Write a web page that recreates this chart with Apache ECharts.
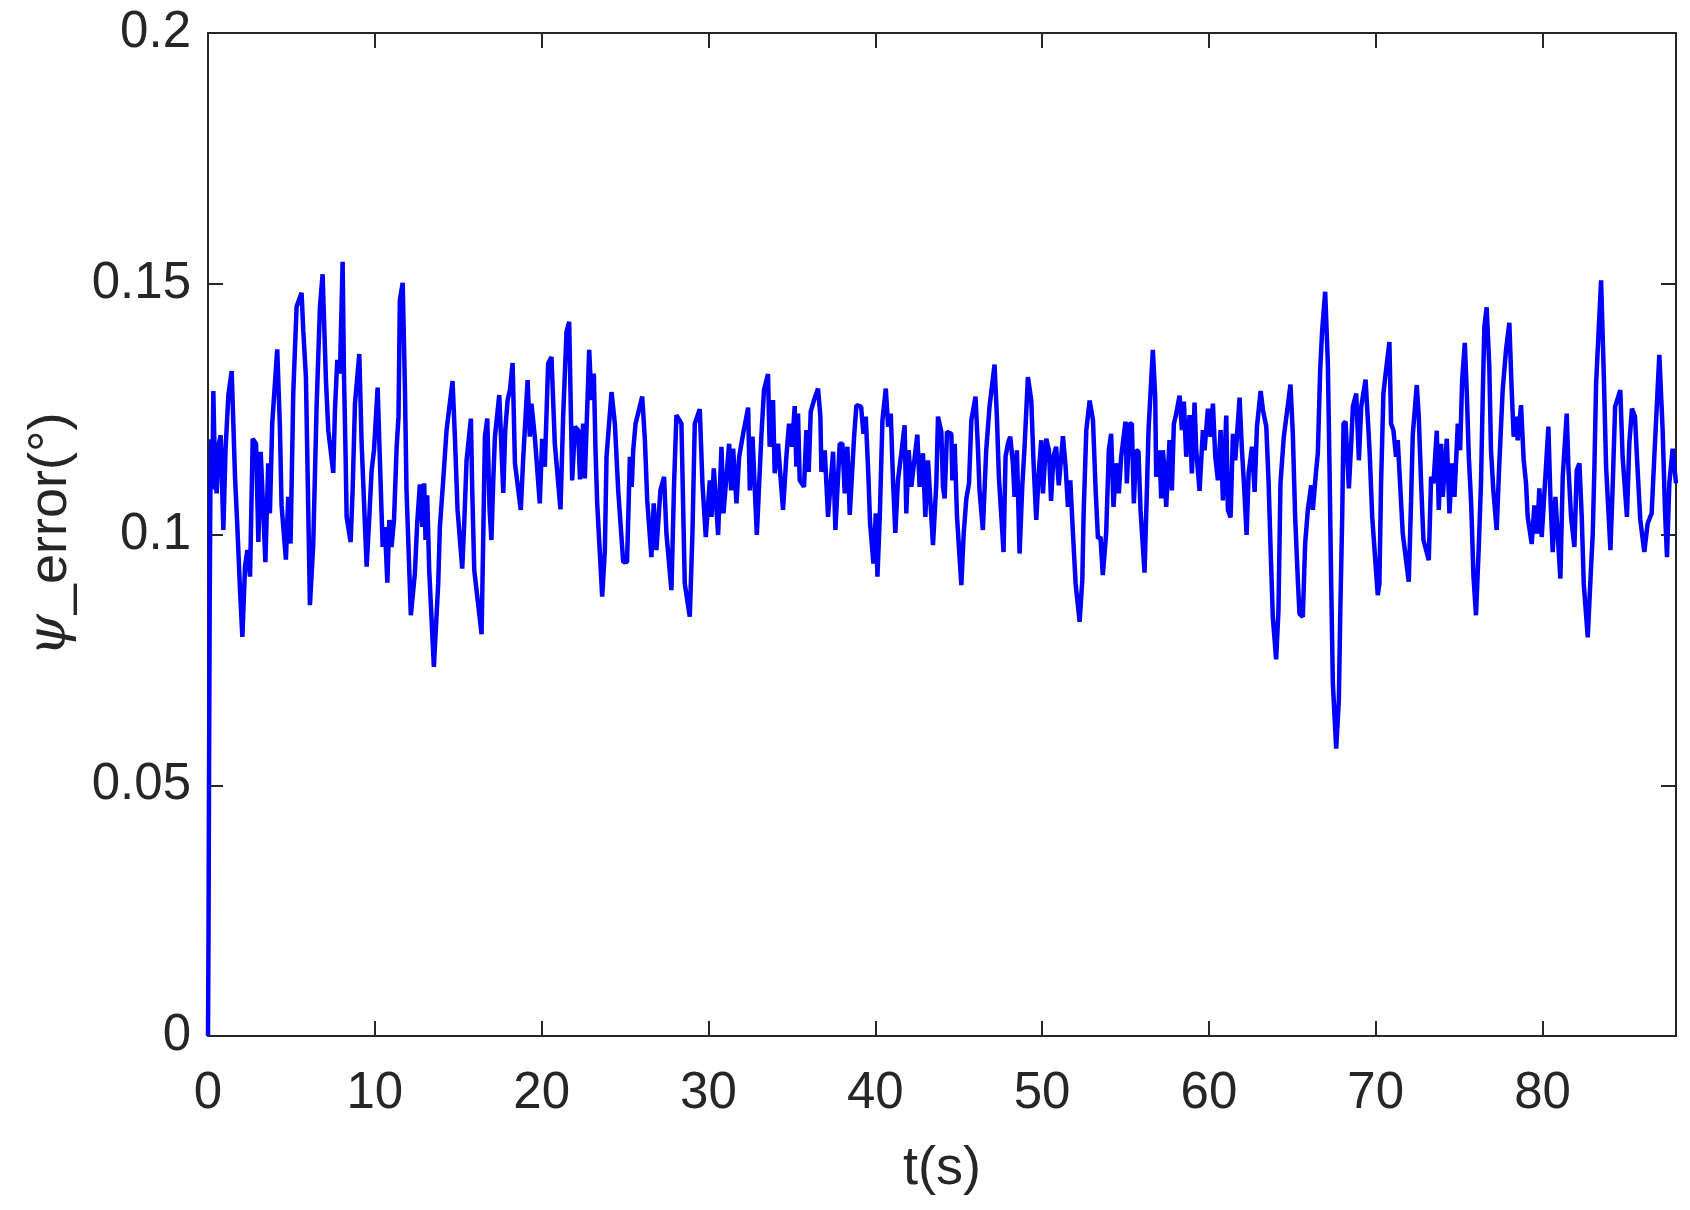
<!DOCTYPE html>
<html>
<head>
<meta charset="utf-8">
<script src="https://cdn.jsdelivr.net/npm/echarts@6/dist/echarts.min.js"></script>
<style>
html,body{margin:0;padding:0;background:#fff;}
#chart{width:1690px;height:1210px;}
</style>
</head>
<body>
<div id="chart"></div>
<script>
// time (s)
const time = [
0,0.03,0.06,0.1,0.14,0.2,0.26,0.32,0.42,0.52,0.64,0.76,0.92,1.05,1.22,1.42,1.62,1.76,1.92,2.06,2.22,2.36,2.52,2.68,2.88,3.02,3.16,3.44,3.61,3.71,3.85,4.15,4.31,4.41,4.67,4.81,4.95,5.11,5.31,5.61,5.71,5.87,6.11,6.31,6.51,6.71,6.87,7.07,7.21,7.51,7.61,7.75,7.91,8.07,8.15,8.25,8.31,8.55,8.67,8.81,9.07,9.21,9.51,9.67,9.81,9.95,10.17,10.31,10.47,10.61,10.75,10.87,
11.0,11.15,11.31,11.42,11.5,11.67,11.8,11.9,12.16,12.4,12.54,12.7,12.85,12.96,13.04,13.14,13.26,13.54,13.8,13.9,14.1,14.3,14.66,14.8,14.96,15.24,15.36,15.5,15.76,15.84,15.96,16.4,16.52,16.6,16.74,16.88,16.99,17.1,17.2,17.46,17.7,17.82,17.96,18.1,18.26,18.4,18.75,18.9,19.16,19.29,19.39,19.59,19.89,20.03,20.19,20.39,20.59,20.79,21.13,21.29,21.49,21.65,21.83,
22.0,22.1,22.19,22.3,22.49,22.59,22.85,22.99,23.13,23.23,23.33,23.63,23.79,23.89,24.19,24.39,24.59,24.89,25.12,25.29,25.4,25.49,25.63,26.03,26.19,26.33,26.58,26.72,26.88,27.12,27.34,27.48,27.78,27.94,28.08,28.18,28.38,28.58,28.88,29.04,29.18,29.48,29.64,29.84,30.08,30.18,30.32,30.58,30.78,30.9,31.24,31.36,31.48,31.68,31.84,32.08,32.38,32.48,32.64,32.9,
33.17,33.33,33.57,33.67,33.87,33.97,34.17,34.47,34.67,34.83,35.01,35.17,35.27,35.37,35.47,35.73,35.87,36.01,36.13,36.33,36.57,36.71,36.77,36.97,37.17,37.47,37.61,37.87,38.03,38.17,38.33,38.47,38.73,38.87,39.15,39.29,39.43,39.59,39.69,39.89,40.03,40.13,40.27,40.43,40.63,40.77,40.93,41.07,41.2,41.36,41.56,41.76,41.86,42.0,42.16,42.52,42.66,42.86,43.0,43.16,43.46,43.66,43.76,43.96,44.06,
44.16,44.3,44.56,44.62,44.76,44.9,45.16,45.3,45.46,45.62,45.76,46.01,46.15,46.25,46.45,46.65,46.85,47.15,47.29,47.41,47.69,47.81,47.95,48.09,48.25,48.35,48.49,48.65,48.81,48.95,49.15,49.35,49.49,49.65,49.81,49.95,50.05,50.25,50.41,50.54,50.68,50.84,51.0,51.25,51.41,51.55,51.69,51.85,52.01,52.25,52.41,52.49,52.65,52.85,53.05,53.21,53.35,53.5,53.64,53.84,54.0,54.14,54.28,54.44,54.6,54.74,55.0,
55.08,55.24,55.38,55.5,55.64,55.78,55.9,56.14,56.3,56.38,56.64,56.78,56.84,57.04,57.14,57.24,57.34,57.44,57.64,57.78,57.9,58.04,58.24,58.38,58.5,58.64,58.84,58.98,59.14,59.24,59.44,59.64,59.74,59.94,60.1,60.24,60.38,60.54,60.7,60.84,61.04,61.14,61.3,61.44,61.58,61.84,61.98,62.1,62.26,62.38,62.58,62.74,62.88,63.1,63.24,63.44,63.58,63.7,63.83,64.03,64.17,64.29,64.49,64.89,65.03,65.17,65.33,65.43,65.63,65.77,65.93,66.13,
66.23,66.43,66.53,66.67,66.79,66.97,67.13,67.23,67.33,67.43,67.63,67.79,67.87,67.99,68.07,68.19,68.39,68.53,68.63,68.83,68.99,69.13,69.39,69.53,69.63,69.79,69.93,70.12,70.22,70.32,70.46,70.62,70.82,70.92,71.06,71.22,71.32,71.46,71.62,71.98,72.12,72.22,72.46,72.58,72.72,72.86,73.18,73.32,73.46,73.66,73.78,73.92,74.02,74.26,74.42,74.58,74.72,74.92,75.06,75.18,75.34,75.46,75.58,75.72,75.86,76.01,76.17,76.31,76.41,76.51,76.65,76.81,76.91,77.05,77.25,
77.4,77.61,77.81,78.01,78.15,78.27,78.41,78.51,78.71,78.87,79.01,79.11,79.35,79.51,79.67,79.81,79.95,80.11,80.35,80.47,80.61,80.77,81.07,81.21,81.45,81.55,81.71,81.91,82.05,82.21,82.35,82.47,82.71,82.87,83.01,83.11,83.21,83.51,83.67,83.81,84.07,84.21,84.35,84.66,84.8,85.06,85.2,85.36,85.54,85.7,85.86,86.1,86.3,86.54,86.7,87.0,87.2,87.34,87.46,87.6,87.8,87.9,88.0
];
// psi_error (deg)
const psiError = [
0,0.02,0.05,0.085,0.108,0.119,0.109,0.1286,0.112,0.1082,0.118,0.1198,0.1009,0.1168,0.1278,0.1326,0.1115,0.1015,0.0889,0.0796,0.0936,0.0969,0.0916,0.1191,0.1181,0.0985,0.1165,0.0945,0.1142,0.1042,0.1221,0.1369,0.1215,0.1058,0.095,0.1075,0.0982,0.1281,0.1454,0.1482,0.1407,0.1314,0.0859,0.0982,0.1255,0.1454,0.1519,0.1308,0.1208,0.1123,0.1248,0.1348,0.1321,0.1544,0.1321,0.1155,0.1035,0.0985,0.1088,0.1261,0.136,0.1181,0.0936,0.1035,0.1128,0.1168,0.1293,0.1142,0.0975,0.1015,0.0904,0.1029,
0.0975,0.1029,0.1175,0.1235,0.1467,0.1502,0.1301,0.1088,0.0839,0.0922,0.1022,0.11,0.1015,0.1102,0.0989,0.1078,0.0929,0.0736,0.0902,0.1015,0.1108,0.1208,0.1306,0.1195,0.1049,0.0932,0.1022,0.1148,0.1231,0.1088,0.0929,0.0801,0.1035,0.1195,0.1231,0.1049,0.0989,0.1108,0.1195,0.1278,0.1083,0.1208,0.1268,0.1288,0.1342,0.1142,0.1049,0.1155,0.1308,0.1195,0.1261,0.1195,0.1062,0.1191,0.1135,0.1341,0.1354,0.1181,0.105,0.1235,0.1404,0.1424,0.1108,
0.1215,0.1215,0.1208,0.111,0.1221,0.1112,0.1368,0.1268,0.1321,0.1168,0.1062,0.0876,0.0969,0.1155,0.1284,0.1221,0.1088,0.0945,0.0945,0.1155,0.1095,0.1168,0.1221,0.1275,0.1188,0.1068,0.0955,0.1062,0.0969,0.1088,0.1115,0.1002,0.0889,0.1102,0.1238,0.1241,0.1221,0.0902,0.0836,0.1002,0.1221,0.125,0.1102,0.0995,0.1108,0.1035,0.1132,0.0999,0.1175,0.1042,0.1181,0.1088,0.1171,0.1062,0.1155,0.1201,0.1253,0.1088,0.1195,0.0999,
0.1195,0.1288,0.132,0.1175,0.1268,0.1122,0.1181,0.1049,0.1155,0.1221,0.1175,0.1256,0.1135,0.1241,0.1108,0.1095,0.1208,0.1125,0.1245,0.1268,0.1291,0.1235,0.1125,0.1168,0.1035,0.1165,0.1009,0.1181,0.1181,0.1082,0.1175,0.1039,0.1195,0.1258,0.1255,0.1201,0.1235,0.1115,0.1022,0.0942,0.1042,0.0916,0.1035,0.1228,0.1291,0.1215,0.1241,0.1102,0.1003,0.1108,0.1162,0.1218,0.1042,0.1168,0.1095,0.1199,0.1095,0.1162,0.1035,0.1148,0.0979,0.1102,0.1235,0.1205,0.1095,
0.1072,0.1205,0.1201,0.1108,0.1181,0.1035,0.0899,0.1002,0.1072,0.1102,0.1228,0.1275,0.1175,0.1088,0.1009,0.1168,0.1255,0.1339,0.1235,0.1115,0.0965,0.1155,0.1181,0.1195,0.1142,0.1075,0.1168,0.0962,0.1095,0.1175,0.1314,0.1268,0.1142,0.1029,0.1128,0.1188,0.1082,0.1191,0.1168,0.1067,0.1155,0.1175,0.1098,0.1196,0.1135,0.1055,0.1108,0.1002,0.0902,0.0826,0.0909,0.1042,0.1208,0.1267,0.1228,0.1088,0.0992,0.0995,0.0919,0.1002,0.1168,0.1201,0.1055,0.1142,0.1082,0.1155,0.1225,
0.1102,0.1221,0.1221,0.1062,0.1168,0.1165,0.1049,0.0924,0.1108,0.1208,0.1368,0.1275,0.1115,0.1168,0.1072,0.1168,0.1128,0.1055,0.1188,0.1088,0.1221,0.1241,0.1277,0.1208,0.1265,0.1155,0.1238,0.1122,0.1263,0.1168,0.1087,0.1208,0.1168,0.1251,0.1195,0.1261,0.1155,0.1108,0.1208,0.1068,0.1237,0.1049,0.1034,0.1201,0.1148,0.1273,0.1168,0.1102,0.0999,0.1122,0.1175,0.1085,0.1215,0.1286,0.1248,0.1215,0.1102,0.0969,0.0836,0.0751,0.0849,0.1102,0.1195,0.1299,0.1201,0.1035,0.0909,0.0842,0.0836,0.0982,0.1049,0.1098,
0.1049,0.1128,0.1162,0.1328,0.1407,0.1484,0.1341,0.1135,0.0902,0.0703,0.0573,0.067,0.0836,0.1035,0.1221,0.1225,0.1092,0.1181,0.1255,0.1281,0.1148,0.1255,0.1309,0.1228,0.1168,0.1035,0.0969,0.0879,0.0902,0.1102,0.1281,0.1328,0.1384,0.1221,0.1208,0.1155,0.1188,0.1102,0.1002,0.0906,0.1068,0.1198,0.1298,0.1235,0.1102,0.0989,0.0949,0.1115,0.1102,0.1207,0.1049,0.1181,0.1075,0.1191,0.1042,0.1142,0.1075,0.1221,0.1168,0.1308,0.1382,0.1281,0.1155,0.1062,0.0916,0.0839,0.0969,0.1102,0.1268,0.1414,0.1453,0.1334,0.1168,0.1088,0.1009,
0.1135,0.1288,0.1368,0.1422,0.1288,0.1195,0.1235,0.1188,0.1258,0.1148,0.1102,0.1035,0.0981,0.1058,0.1002,0.1092,0.0995,0.1082,0.1215,0.1075,0.0965,0.1075,0.0912,0.1115,0.1241,0.1135,0.1035,0.0975,0.1128,0.1142,0.1035,0.0902,0.0795,0.0909,0.1002,0.1135,0.1301,0.1507,0.1321,0.1135,0.0969,0.1102,0.1255,0.1288,0.1155,0.1035,0.1181,0.1251,0.1235,0.1128,0.1029,0.0965,0.1022,0.1042,0.1155,0.1358,0.1208,0.1049,0.0955,0.1102,0.1171,0.1172,0.1102
];
const xTicks = [0,10,20,30,40,50,60,70,80];
const yTicks = [0,0.05,0.1,0.15,0.2];

const points = time.map((t,i)=>[t, psiError[i]]);
const axisColor = '#262626';
const font = 'Liberation Sans, Arial, sans-serif';

const chart = echarts.init(document.getElementById('chart'), null, {renderer:'canvas'});
const baseX = {
  type:'value', min:0, max:88, interval:10,
  axisLine:{show:true, onZero:false, lineStyle:{color:axisColor, width:2}},
  axisTick:{show:true, inside:true, length:15, lineStyle:{color:axisColor, width:2}},
  splitLine:{show:false}
};
const baseY = {
  type:'value', min:0, max:0.2, interval:0.05,
  axisLine:{show:true, onZero:false, lineStyle:{color:axisColor, width:2}},
  axisTick:{show:true, inside:true, length:15, lineStyle:{color:axisColor, width:2}},
  splitLine:{show:false}
};
chart.setOption({
  animation:false,
  backgroundColor:'#ffffff',
  grid:{left:208, right:14, top:33, bottom:174, containLabel:false},
  xAxis:[
    Object.assign({}, baseX, {
      position:'bottom',
      name:'t(s)', nameLocation:'middle', nameGap:106,
      nameTextStyle:{fontFamily:font, fontSize:54, color:axisColor},
      axisLabel:{show:true, margin:32, fontFamily:font, fontSize:51, color:axisColor,
        formatter:v=> xTicks.includes(v) ? String(v) : ''}
    }),
    Object.assign({}, baseX, {position:'top', axisLabel:{show:false}})
  ],
  yAxis:[
    Object.assign({}, baseY, {
      position:'left',
      name:'{psi|ψ}_error(°)', nameLocation:'middle', nameGap:130, nameRotate:90,
      nameTextStyle:{fontFamily:font, fontSize:54, color:axisColor,
        rich:{psi:{fontFamily:'DejaVu Serif', fontStyle:'italic', fontSize:54, color:axisColor}}},
      axisLabel:{show:true, margin:17, fontFamily:font, fontSize:51, color:axisColor,
        formatter:v=>{ const m = yTicks.find(k=>Math.abs(k-v)<1e-9); return m===undefined? '' : String(m); }}
    }),
    Object.assign({}, baseY, {position:'right', axisLabel:{show:false}})
  ],
  series:[{
    type:'line', xAxisIndex:0, yAxisIndex:0,
    data:points, showSymbol:false, symbol:'none',
    lineStyle:{color:'#0000ff', width:4.5},
    clip:true, z:3
  }]
});
</script>
</body>
</html>
